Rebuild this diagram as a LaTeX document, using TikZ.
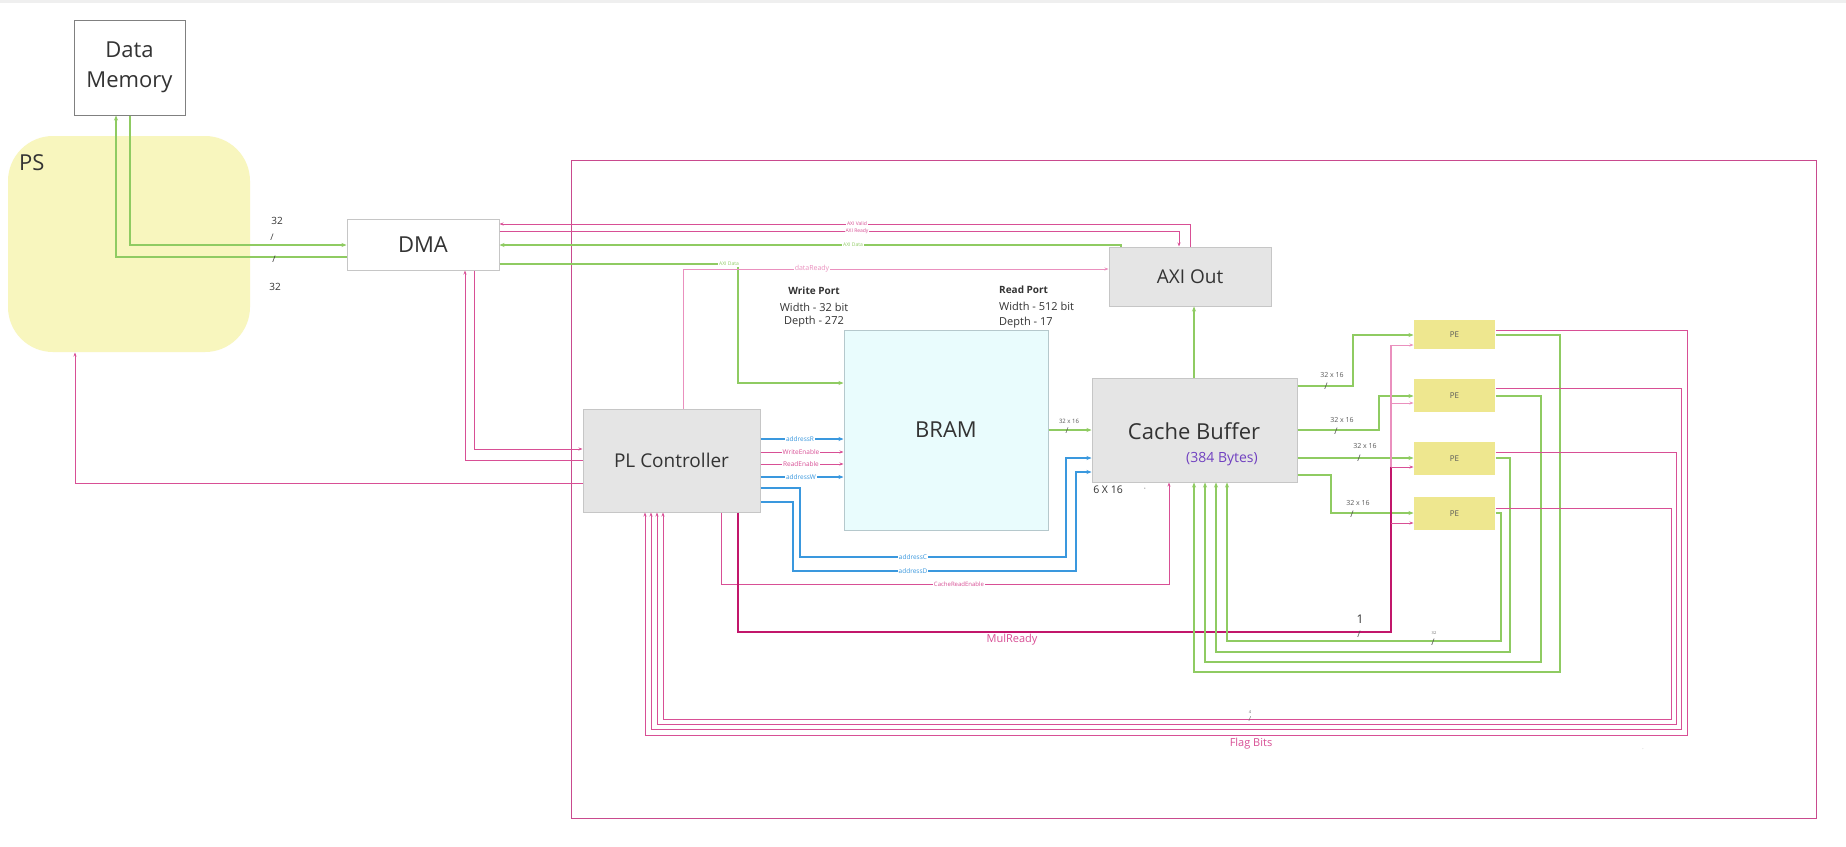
\documentclass[tikz,border=0pt]{standalone}
\usepackage{fontspec}
\setmainfont{Open Sans}
\usetikzlibrary{arrows.meta}
\definecolor{gline}{HTML}{8FCB62}
\definecolor{pline}{HTML}{D84F95}
\definecolor{plight}{HTML}{EA90BE}
\definecolor{pborder}{HTML}{C94A8E}
\definecolor{bline}{HTML}{3A98DE}
\definecolor{mline}{HTML}{C2166B}
\definecolor{boxg}{HTML}{E5E5E5}
\definecolor{boxgl}{HTML}{C6C6C6}
\definecolor{psfill}{HTML}{F8F6BE}
\definecolor{pefill}{HTML}{EEE78F}
\definecolor{bramfill}{HTML}{E9FCFD}
\definecolor{bramline}{HTML}{B5C8CC}
\definecolor{purp}{HTML}{7040C0}
\definecolor{txt}{HTML}{333333}
\definecolor{topgray}{HTML}{EFEFEF}
\tikzset{
  fs/.style={font={\fontsize{#1}{#1}\selectfont}},
  blk/.style={inner sep=0pt, line width=1pt},
  gl/.style={draw=gline, line width=1.4pt, -{Stealth[length=5pt,width=4pt]}},
  pk/.style={draw=pline, line width=0.8pt, -{Stealth[length=4pt,width=3pt]}},
  pkl/.style={draw=plight, line width=0.9pt, -{Stealth[length=4pt,width=3pt]}},
  bl/.style={draw=bline, line width=1.2pt, -{Stealth[length=5pt,width=4pt]}},
  ml/.style={draw=mline, line width=2.2pt},
  lab/.style={fill=white, inner sep=0.8pt},
  tx/.style={text=txt, inner sep=0pt},
}
\begin{document}
\begin{tikzpicture}[x=1pt,y=-1pt]
\useasboundingbox (0,0) rectangle (1846,846);
\fill[white] (0,0) rectangle (1846,846);
\fill[topgray] (0,0) rectangle (1846,3);

% PS region
\node[blk, fill=psfill, rounded corners=45pt, minimum width=242pt, minimum height=216pt] (ps) at (129,244) {};
\node[tx, fs=22, anchor=west] (pslab) at (19,163) {PS};

% PL border
\node[blk, draw=pborder, line width=0.9pt, minimum width=1245pt, minimum height=658pt] (plb) at (1193.5,489) {};

% boxes
\node[blk, draw=black!50, fill=white, minimum width=111pt, minimum height=95pt, align=center, text=txt, font={\fontsize{22}{30}\selectfont}] (dm) at (129.5,67.5) {Data\\Memory};
\node[blk, draw=boxgl, fill=white, minimum width=152pt, minimum height=51pt, tx, fs=22] (dma) at (423,244.5) {DMA};
\node[blk, draw=boxgl, fill=boxg, minimum width=177pt, minimum height=103pt, tx, fs=19] (pl) at (671.5,460.5) {PL Controller};
\node[blk, draw=bramline, fill=bramfill, minimum width=204pt, minimum height=200pt, tx, fs=22] (bram) at (946,430) {BRAM};
\node[blk, draw=boxgl, fill=boxg, minimum width=162pt, minimum height=59pt, tx, fs=19] (axi) at (1190,276.5) {AXI Out};
\node[blk, draw=boxgl, fill=boxg, minimum width=205pt, minimum height=104pt] (cache) at (1194.5,430) {};
\node[tx, fs=22] (cachet) at (1194,431) {Cache Buffer};
\node[inner sep=0pt, text=purp, fs=14] (cacheb) at (1222,459) {(384 Bytes)};
\node[blk, fill=pefill, minimum width=81pt, minimum height=29pt, text=black!65, fs=8] (pe1) at (1454.5,334.5) {PE};
\node[blk, fill=pefill, minimum width=81pt, minimum height=33pt, text=black!65, fs=8] (pe2) at (1454.5,395.5) {PE};
\node[blk, fill=pefill, minimum width=81pt, minimum height=33pt, text=black!65, fs=8] (pe3) at (1454.5,458.5) {PE};
\node[blk, fill=pefill, minimum width=81pt, minimum height=33pt, text=black!65, fs=8] (pe4) at (1454.5,513.5) {PE};

% Data memory <-> DMA
\draw[gl] (dm.south -| 130,0) -- (130,245) -- (dma.west |- 0,245);
\draw[gl] (dma.west |- 0,257) -- (116,257) -- (dm.south -| 116,0);

% DMA <-> AXI Out
\draw[pk] (axi.north -| 1190,0) -- (1190,224) -- (dma.east |- 0,224);
\draw[pk] (dma.east |- 0,231) -- (1179,231) -- (axi.north -| 1179,0);
\draw[gl] (axi.north -| 1121,0) -- (1121,245) -- (dma.east |- 0,245);
\draw[gl] (dma.east |- 0,264) -- (738,264) -- (738,383) -- (bram.west |- 0,383);
\draw[pkl] (pl.north -| 683,0) -- (683,269) -- (axi.west |- 0,269);

% DMA <-> PL, PL -> PS
\draw[pk] (dma.south -| 474,0) -- (474,449) -- (pl.west |- 0,449);
\draw[pk] (pl.west |- 0,460) -- (465,460) -- (dma.south -| 465,0);
\draw[pk] (pl.west |- 0,483) -- (75,483) -- (ps.south -| 75,0);

% PL -> BRAM
\draw[bl] (pl.east |- 0,439) -- (bram.west |- 0,439);
\draw[pk] (pl.east |- 0,452) -- (bram.west |- 0,452);
\draw[pk] (pl.east |- 0,464) -- (bram.west |- 0,464);
\draw[bl] (pl.east |- 0,477) -- (bram.west |- 0,477);
\draw[bl] (pl.east |- 0,488) -- (800,488) -- (800,557) -- (1066,557) -- (1066,458) -- (cache.west |- 0,458);
\draw[bl] (pl.east |- 0,502) -- (793,502) -- (793,571) -- (1076,571) -- (1076,472) -- (cache.west |- 0,472);
\draw[pk] (pl.south -| 721,0) -- (721,584) -- (1169,584) -- (cache.south -| 1169,0);

% BRAM -> Cache -> AXI
\draw[gl] (bram.east |- 0,430) -- (cache.west |- 0,430);
\draw[gl] (cache.north -| 1194,0) -- (axi.south -| 1194,0);

% Cache -> PEs
\draw[gl] (cache.east |- 0,386) -- (1353,386) -- (1353,335) -- (pe1.west |- 0,335);
\draw[gl] (cache.east |- 0,430) -- (1379,430) -- (1379,396) -- (pe2.west |- 0,396);
\draw[gl] (cache.east |- 0,458) -- (pe3.west |- 0,458);
\draw[gl] (cache.east |- 0,475) -- (1331,475) -- (1331,513) -- (pe4.west |- 0,513);

% MulReady
\coordinate (mr1) at (1391,345);
\coordinate (mr2) at (1391,403);
\coordinate (mr3) at (1391,467);
\coordinate (mr4) at (1391,523);
\draw[draw=plight, line width=1.1pt] (mr1) -- (mr3);
\draw[ml] (pl.south -| 738,0) -- (738,632) -- (1391,632) -- (mr3);
\draw[pkl] (mr1) -- (pe1.west |- mr1);
\draw[pkl] (mr2) -- (pe2.west |- mr2);
\draw[pk] (mr3) -- (pe3.west |- mr3);
\draw[pk] (mr4) -- (pe4.west |- mr4);

% PE -> Cache (green)
\draw[gl] (pe1.east |- 0,335) -- (1560,335) -- (1560,672) -- (1194,672) -- (cache.south -| 1194,0);
\draw[gl] (pe2.east |- 0,396) -- (1541,396) -- (1541,662) -- (1205,662) -- (cache.south -| 1205,0);
\draw[gl] (pe3.east |- 0,458) -- (1510,458) -- (1510,652) -- (1216,652) -- (cache.south -| 1216,0);
\draw[gl] (pe4.east |- 0,513) -- (1501,513) -- (1501,641) -- (1227,641) -- (cache.south -| 1227,0);

% Flag bits (pink)
\draw[pk] (pe1.east |- 0,330) -- (1687,330) -- (1687,735) -- (645,735) -- (pl.south -| 645,0);
\draw[pk] (pe2.east |- 0,388) -- (1681,388) -- (1681,729) -- (651,729) -- (pl.south -| 651,0);
\draw[pk] (pe3.east |- 0,452) -- (1676,452) -- (1676,724) -- (657,724) -- (pl.south -| 657,0);
\draw[pk] (pe4.east |- 0,508) -- (1671,508) -- (1671,719) -- (663,719) -- (pl.south -| 663,0);

% line labels
\node[lab, text=pline, fs=5] (lav) at (857,224) {AXI Valid};
\node[lab, text=pline, fs=5] (lar) at (857,231) {AXI Ready};
\node[lab, text=gline, fs=5] (lad) at (853,245) {AXI Data};
\node[lab, text=gline, fs=5] (lad2) at (729,264) {AXI Data};
\node[lab, text=plight, fs=7] (ldr) at (812,269) {dataReady};
\node[lab, text=bline, fs=6.5] (lar2) at (800,439) {addressR};
\node[lab, text=pline, fs=6.5] (lwe) at (801,452) {WriteEnable};
\node[lab, text=pline, fs=6.5] (lre) at (801,464) {ReadEnable};
\node[lab, text=bline, fs=6.5] (law) at (801,477) {addressW};
\node[lab, text=bline, fs=6.5] (lac) at (913,557) {addressC};
\node[lab, text=bline, fs=6.5] (lad3) at (913,571) {addressD};
\node[lab, text=pline, fs=6] (lcre) at (959,584) {CacheReadEnable};

% plain texts
\node[tx, fs=10] (t32a) at (277,221) {32};
\node[tx, fs=9] (s32a) at (272,237) {/};
\node[tx, fs=9] (s32b) at (274,259) {/};
\node[tx, fs=10] (t32b) at (275,287) {32};

\node[tx, fs=11, font=\bfseries] (wp1) at (814,291) {Write Port};
\node[tx, fs=11] (wp2) at (814,307) {Width - 32 bit};
\node[tx, fs=11] (wp3) at (814,322) {Depth - 272};
\node[tx, fs=11, font=\bfseries, anchor=west] (rp1) at (999,290) {Read Port};
\node[tx, fs=11, anchor=west] (rp2) at (999,306) {Width - 512 bit};
\node[tx, fs=11, anchor=west] (rp3) at (999,323) {Depth - 17};

\node[text=black!65, inner sep=0pt, fs=6] (bc1) at (1069,421) {32 x 16};
\node[text=black!70, inner sep=0pt, fs=8] (bc2) at (1067,431) {/};
\node[tx, fs=10.5] (sx16) at (1108,490) {6 X 16};
\node[text=black!60, inner sep=0pt, fs=8] (dot1) at (1145,490) {·};

\node[text=black!65, inner sep=0pt, fs=7] (c1) at (1332,375) {32 x 16};
\node[text=black!70, inner sep=0pt, fs=9] (c1s) at (1326,386) {/};
\node[text=black!65, inner sep=0pt, fs=7] (c2) at (1342,420) {32 x 16};
\node[text=black!70, inner sep=0pt, fs=9] (c2s) at (1336,431) {/};
\node[text=black!65, inner sep=0pt, fs=7] (c3) at (1365,446) {32 x 16};
\node[text=black!70, inner sep=0pt, fs=9] (c3s) at (1359,458) {/};
\node[text=black!65, inner sep=0pt, fs=7] (c4) at (1358,503) {32 x 16};
\node[text=black!70, inner sep=0pt, fs=9] (c4s) at (1352,514) {/};

\node[tx, fs=12] (one) at (1360,619) {1};
\node[text=black!70, inner sep=0pt, fs=9] (ones) at (1359,634) {/};
\node[text=black!60, inner sep=0pt, fs=4] (g32) at (1434,633) {32};
\node[text=black!70, inner sep=0pt, fs=9] (g32s) at (1433,642) {/};
\node[text=black!60, inner sep=0pt, fs=4] (f4) at (1250,712) {4};
\node[text=black!60, inner sep=0pt, fs=7] (f4s) at (1250,719) {/};
\node[text=pline, inner sep=0pt, fs=11] (flag) at (1251,744) {Flag Bits};
\node[text=pline, inner sep=0pt, fs=11] (mul) at (1012,640) {MulReady};
\node[text=black!40, inner sep=0pt, fs=5] (dot2) at (1643,749) {.};
\end{tikzpicture}
\end{document}
